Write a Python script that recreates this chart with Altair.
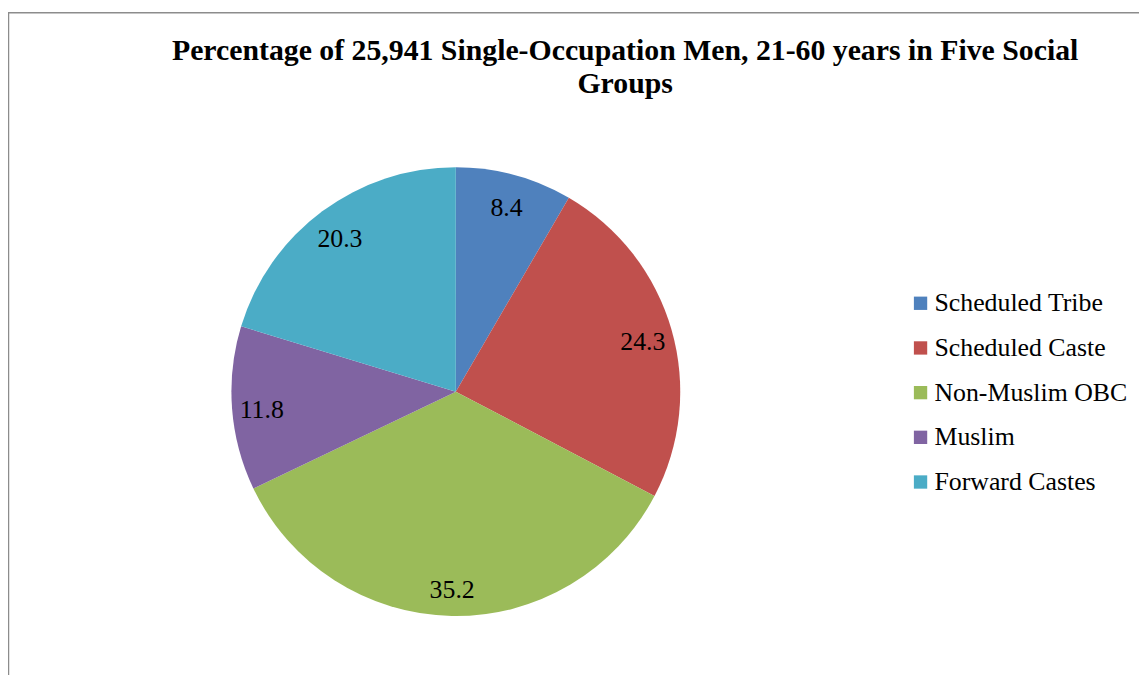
import altair as alt
import pandas as pd

categories = ["Scheduled Tribe", "Scheduled Caste", "Non-Muslim OBC", "Muslim", "Forward Castes"]
values = [8.4, 24.3, 35.2, 11.8, 20.3]
colors = ["#4F81BD", "#C0504D", "#9BBB59", "#8064A2", "#4BACC6"]
title_lines = ["Percentage of 25,941 Single-Occupation Men, 21-60 years in Five Social", "Groups"]

df = pd.DataFrame({"group": categories, "pct": values, "order": list(range(len(categories)))})
df["label"] = [f"{v:.1f}" for v in values]

W, H = 1139, 667
CX, CY, R = 451, 384, 226
FONT = "Liberation Serif"

base = alt.Chart(df).encode(
    theta=alt.Theta("pct:Q", stack=True, scale=alt.Scale(range=[0, 6.283185307])),
    order=alt.Order("order:Q"),
)

pie = base.mark_arc(outerRadius=R, stroke=None).encode(
    x=alt.value(CX), y=alt.value(CY),
    color=alt.Color(
        "group:N",
        scale=alt.Scale(domain=categories, range=colors),
        sort=categories,
        legend=alt.Legend(
            title=None, orient="none", legendX=906, legendY=282,
            symbolType="square", symbolSize=180, symbolStrokeWidth=0,
            labelFont=FONT, labelFontSize=26, labelColor="#000000",
            labelLimit=400, rowPadding=19, symbolOffset=0, labelOffset=1,
        ),
    ),
)

labels = base.mark_text(radius=196, dy=4, font=FONT, fontSize=26, color="#000000").encode(
    x=alt.value(CX), y=alt.value(CY), text="label:N"
)

border = alt.Chart(pd.DataFrame({"a": [0]})).mark_rect(
    fill=None, stroke="#8c8c8c", strokeWidth=1.5
).encode(x=alt.value(0.5), y=alt.value(2.5), x2=alt.value(W + 50), y2=alt.value(H + 50))

chart = alt.layer(border, pie, labels).properties(
    width=W, height=H,
    autosize=alt.AutoSizeParams(type="none"),
    padding=0,
    title=alt.TitleParams(
        text=title_lines, font=FONT, fontSize=30, fontWeight="bold", color="#000000",
        anchor="middle", dx=52, dy=89, lineHeight=33, offset=0,
    ),
).configure_view(stroke=None)

chart.save("out.html", embed_options={"renderer": "svg", "actions": False})
